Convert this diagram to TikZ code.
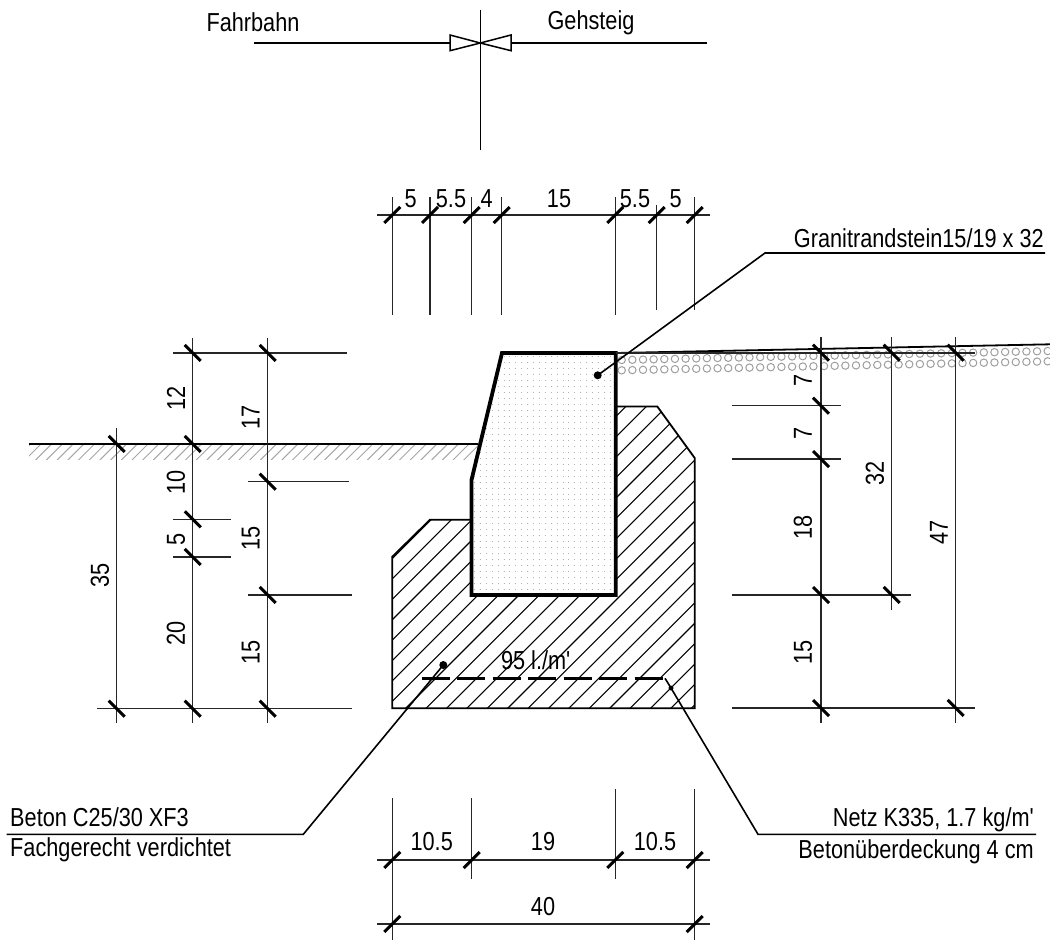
\documentclass[tikz,border=0pt]{standalone}
\usepackage{fontspec}
\setmainfont[FakeStretch=0.835,Ligatures=TeXOff]{Liberation Sans}
\usepackage{tikz}
\usetikzlibrary{calc}

\tikzset{
    lbl/.style={inner sep=0pt, font=\fontsize{26}{26}\selectfont},
    dimline/.style={line width=1.2pt, black!85},
    dimtick/.style={line width=3pt, black},
    hatchline/.style={line width=1.1pt, black},
    groundhatch/.style={line width=1pt, black!35},
    pebble/.style={line width=1pt, black!38},
    stoneline/.style={line width=3.8pt, line join=miter},
    concreteline/.style={line width=1.8pt, line join=miter},
    leader/.style={line width=1.6pt},
}

\begin{document}
\begin{tikzpicture}[x=1pt,y=-1pt]
    \useasboundingbox (0,0) rectangle (1050,940);
    % stone
    \coordinate (A) at (502,353);
    \coordinate (B) at (615.7,353);
    \coordinate (C) at (615.7,595);
    \coordinate (D) at (471.5,595);
    \coordinate (E) at (471.5,480);
    % concrete
    \coordinate (F) at (615.7,406.5);
    \coordinate (G) at (657.3,406.5);
    \coordinate (H) at (694.7,458);
    \coordinate (I) at (694.7,708.3);
    \coordinate (J) at (392.3,708.3);
    \coordinate (K) at (392.3,556.7);
    \coordinate (L) at (430,519.7);
    \coordinate (M) at (471.5,519.7);
    % ground
    \begin{scope}
        \clip (29,444) rectangle (480,459);
        \foreach \k in {0,...,44}
            \draw[groundhatch] ({474.3+\k*10.7-430},430) -- ({474.3+\k*10.7-460},460);
    \end{scope}
    \draw[line width=2pt] (29,444) coordinate (P) -- (478,444);
    % pebbles
    \foreach \k in {0,...,40} {
        \draw[pebble] ({621.7+\k*10.65},{360-0.021*\k*10.65}) circle (3.7);
        \draw[pebble] ({621.7+\k*10.65},{370.3-0.021*\k*10.65}) circle (3.7);
    }
    \draw[line width=1.8pt] (B) -- (1050,344.3);
    % concrete hatch
    \begin{scope}
        \clip (F) -- (G) -- (H) -- (I) -- (J) -- (K) -- (L) -- (M) -- (D) -- (C) -- cycle;
        \foreach \k in {-9,...,15}
            \draw[hatchline] ({1114+\k*20.4-340},340) -- ({1114+\k*20.4-760},760);
    \end{scope}
    \draw[concreteline] (F) -- (G) -- (H) -- (I) -- (J) -- (K) -- (L) -- (M);
    % stone fill
    \fill[white] (A) -- (B) -- (C) -- (D) -- (E) -- cycle;
    \begin{scope}
        \clip (A) -- (B) -- (C) -- (D) -- (E) -- cycle;
        \foreach \k in {0,...,39}
            \draw[line width=1pt, black!30, dash pattern=on 1pt off 4.9pt] (474,{356.7+\k*5.97}) -- (615,{356.7+\k*5.97});
    \end{scope}
    \draw[stoneline] (A) -- (B) -- (C) -- (D) -- (E) -- cycle;
    % mesh
    \draw[line width=3pt, dash pattern=on 28pt off 7.5pt] (421.7,678.3) -- (665,678.3);
    \node[lbl] (mesh) at (535.7,660) {95 l./m'};
    % axis
    \draw[line width=1.5pt] (480.3,10) -- (480.3,150);
    \draw[line width=1.5pt] (254,43) -- (450,43);
    \draw[line width=1.5pt] (511,43) -- (707.3,43);
    \draw[line width=1.5pt] (480.3,43) -- (450,35) -- (450,50.7) -- cycle;
    \draw[line width=1.5pt] (480.3,43) -- (511,35) -- (511,50.7) -- cycle;
    \node[lbl] (fahrbahn) at (253,22) {Fahrbahn};
    \node[lbl] (gehsteig) at (591,23) {Gehsteig};
    % top dimensions
    \foreach \a/\b/\c in {392.3/197/315,430/197/315,471.7/197/315,501.7/197/315,615.3/197/315,656.7/205/310,694.7/197/310}
        \draw[dimline] (\a,\b) -- (\a,\c);
    \draw[dimline] (377,215) -- (710,215);
    \foreach \a in {392.3,430,471.7,501.7,615.3,656.7,694.7}
        \draw[dimtick] (\a,215) ++(-8,8) -- ++(16,-16);
    \foreach \a/\t in {410.7/5,451/5.5,486.7/4,559/15,635/5.5,675.7/5}
        \node[lbl] at (\a,199) {\t};
    % left dimensions
    \draw[dimline] (116.7,428) -- (116.7,723);
    \draw[dimline] (192.7,338) -- (192.7,723);
    \draw[dimline] (267.7,338) -- (267.7,723);
    \foreach \a/\b/\c in {173/346.7/353,248/349/481.7,173/231/519.3,173/231/557,248/352/595,97/352/708.7}
        \draw[dimline] (\a,\c) -- (\b,\c);
    \foreach \a/\b in {116.7/444,116.7/708.7,192.7/353,192.7/444,192.7/519.3,192.7/557,192.7/708.7,267.7/353,267.7/481.7,267.7/595,267.7/708.7}
        \draw[dimtick] (\a,\b) ++(-8,-8) -- ++(16,16);
    \foreach \a/\b/\t in {176/398/12,176/482.7/10,176/539/5,176/633/20,100/575.7/35,250.7/417/17,250.7/538/15,250.7/652/15}
        \node[lbl,rotate=90] at (\a,\b) {\t};
    % right dimensions
    \draw[dimline] (B) -- (975,353);
    \draw[dimline] (821,337) -- (821,723);
    \draw[dimline] (891.7,337) -- (891.7,610);
    \draw[dimline] (955.7,337) -- (955.7,723);
    \foreach \a/\b/\c in {732/840.7/405.7,732/840.7/459,732/910.7/595,732/975/708}
        \draw[dimline] (\a,\c) -- (\b,\c);
    \foreach \a/\b in {821/352.7,821/405.7,821/459,821/595,821/708,891.7/352.7,891.7/595,955.7/352.7,955.7/708}
        \draw[dimtick] (\a,\b) ++(-8,-8) -- ++(16,16);
    \foreach \a/\b/\t in {803/380/7,803/433/7,803/527/18,803/652/15,875/473/32,939/532/47}
        \node[lbl,rotate=90] at (\a,\b) {\t};
    % bottom dimensions
    \draw[dimline] (392.3,798) -- (392.3,940);
    \draw[dimline] (471.7,798) -- (471.7,879);
    \draw[dimline] (615.3,789) -- (615.3,879);
    \draw[dimline] (694.7,789) -- (694.7,940);
    \draw[dimline] (377,860) -- (710,860);
    \draw[dimline] (377,924) -- (710,924);
    \foreach \a/\b in {392.3/860,471.7/860,615.3/860,694.7/860,392.3/924,694.7/924}
        \draw[dimtick] (\a,\b) ++(-8,8) -- ++(16,-16);
    \foreach \a/\b/\t in {431.7/841.7/10.5,543/841.7/19,655/841.7/10.5,543/906.7/40}
        \node[lbl] at (\a,\b) {\t};
    % leaders
    \fill (597.7,375.3) coordinate (Q) circle (4);
    \draw[leader] (Q) -- (765,253) -- (1045,253);
    \node[lbl,anchor=east] (granit) at (1044,238) {Granitrandstein15/19 x 32};
    \fill (443.3,665) coordinate (R) circle (4);
    \draw[leader] (R) -- (303.3,834.3) -- (6.7,834.3);
    \node[lbl,anchor=west] (beton) at (10,817) {Beton C25/30 XF3};
    \node[lbl,anchor=west] (verdichtet) at (10,850) {Fachgerecht verdichtet};
    \fill (671,688) coordinate (S) circle (2.5);
    \draw[leader] (665,678.3) -- (S) -- (758,834.3) -- (1036,834.3);
    \node[lbl,anchor=east] (netz) at (1034,820) {Netz K335, 1.7 kg/m'};
    \node[lbl,anchor=east] (ueberdeckung) at (1034,852) {Betonüberdeckung 4 cm};
\end{tikzpicture}
\end{document}
